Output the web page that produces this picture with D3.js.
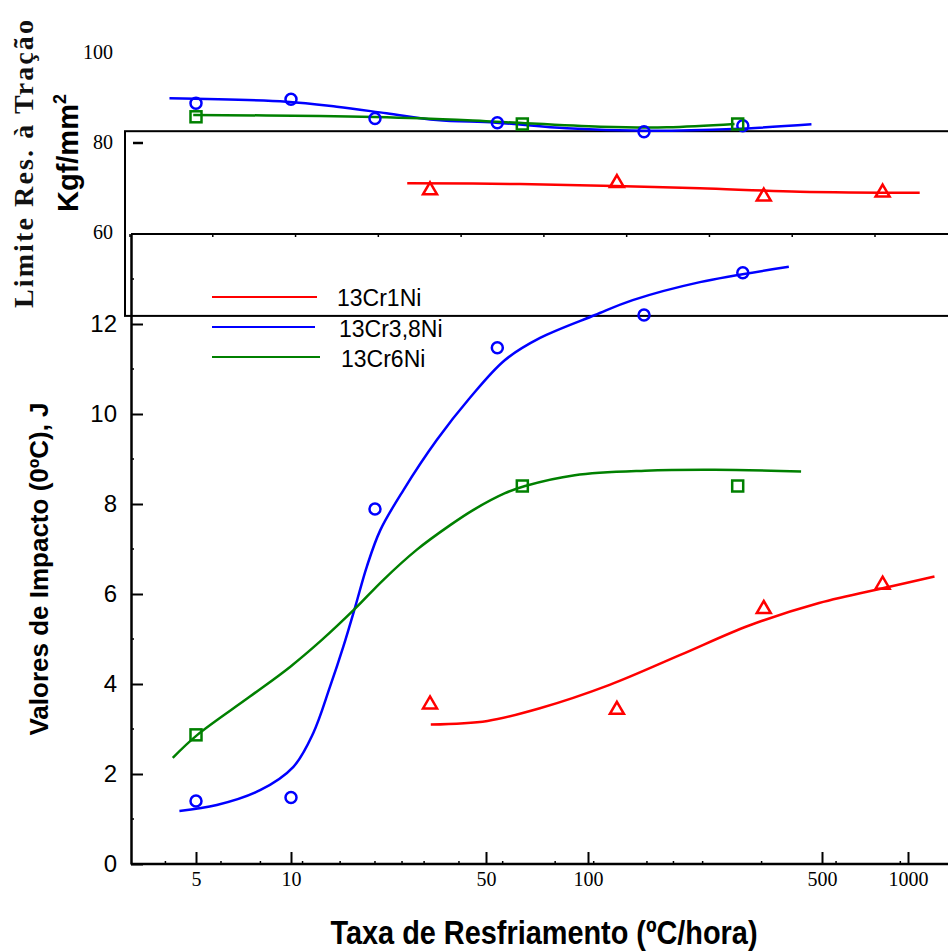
<!DOCTYPE html>
<html>
<head>
<meta charset="utf-8">
<script src="https://cdn.jsdelivr.net/npm/d3@7"></script>
<style>
  body { margin: 0; background: #fff; }
  svg { display: block; }
</style>
</head>
<body>
<div id="chart"></div>
<script>
// axis ticks
const xTicks = [5, 10, 50, 100, 500, 1000];
const xMinorTicks = [4, 6, 8, 11, 15, 20, 25, 30, 40, 56, 80, 104, 150, 180, 220, 330, 560, 940];
const impactTicks = [0, 2, 4, 6, 8, 10, 12];
const impactMinorTicks = [1, 3, 5, 7, 9, 11, 13];
const tensileTicks = [100, 80, 60];

const seriesNames = ["13Cr1Ni", "13Cr3,8Ni", "13Cr6Ni"];
const seriesColors = ["#ff0000", "#0000ff", "#008000"];

// measured points: cooling rate, impact (J), tensile (kgf/mm2)
const cr1Rate = [31.5, 122, 335, 815];
const cr1Impact = [3.58, 3.46, 5.70, 6.24];
const cr1Tensile = [69.6, 71.2, 68.2, 69.1];

const cr38Rate = [5, 10, 20, 54, 147, 290];
const cr38Impact = [1.40, 1.48, 7.89, 11.47, 12.2, 13.14];
const cr38Tensile = [88.6, 89.5, 85.2, 84.3, 82.3, 83.6];

const cr6Rate = [5, 64, 280];
const cr6Impact = [2.87, 8.4, 8.4];
const cr6Tensile = [85.6, 84.0, 84.0];

// fitted curves: [rate, value]
const cr1ImpactFit = [[31.7, 3.10], [50.5, 3.18], [72.1, 3.46], [116, 3.98], [188, 4.64], [303, 5.30], [490, 5.80], [861, 6.16], [1238, 6.39]];
const cr38ImpactFit = [[4.43, 1.18], [5.82, 1.31], [7.98, 1.64], [10.2, 2.16], [12.0, 2.90], [13.8, 3.94], [15.4, 4.83], [17.0, 5.72], [18.7, 6.61], [20.9, 7.42], [25.3, 8.31], [33.3, 9.42], [43.8, 10.36], [56.9, 11.2], [72.2, 11.69], [105, 12.2], [136, 12.53], [216, 12.93], [398, 13.27]];
const cr6ImpactFit = [[4.22, 2.36], [5.05, 2.87], [7.41, 3.72], [9.93, 4.38], [12.9, 4.98], [17.0, 5.68], [21.4, 6.31], [28.2, 6.98], [37.2, 7.53], [45.1, 7.87], [56.9, 8.24], [65.2, 8.4], [91.4, 8.64], [148, 8.74], [239, 8.76], [433, 8.72]];

const cr1TensileFit = [[26.1, 70.82], [63.0, 70.67], [120, 70.22], [216, 69.71], [429, 68.96], [1099, 68.73]];
const cr38TensileFit = [[4.12, 89.71], [9.69, 88.96], [14.6, 87.84], [22.0, 86.38], [33.3, 84.89], [53.5, 84.29], [86.5, 83.04], [148, 82.51], [271, 82.89], [465, 83.93]];
const cr6TensileFit = [[4.90, 86.0], [12.7, 85.78], [29.0, 85.27], [53.5, 84.51], [109, 83.4], [172, 83.27], [274, 84.0]];

const W = 948, H = 952;
const axisLeftX = 131;   // left axis of impact plot
const boxLeftX = 125;    // left edge of the tensile frame

const svg = d3.select("#chart").append("svg")
    .attr("width", W)
    .attr("height", H);

// the printed log axis is not perfectly uniform, so calibrate per decade piece
const x = d3.scaleLog()
    .domain(xTicks)
    .range([196, 291, 486, 588, 822, 908]);

const yImp = d3.scaleLinear().domain([0, 14]).range([864, 234]);
const yTen = d3.scaleLinear().domain([60, 100]).range([232, 52]);

const sans = "'Liberation Sans', Arial, sans-serif";
const serif = "'Liberation Serif', 'Times New Roman', serif";

// frames
svg.append("rect")
    .attr("x", boxLeftX)
    .attr("y", yTen(82.4))
    .attr("width", W - boxLeftX + 10)
    .attr("height", yImp(12.18) - yTen(82.4))
    .attr("fill", "none")
    .attr("stroke", "#000")
    .attr("stroke-width", 2);

svg.append("line")
    .attr("x1", axisLeftX).attr("x2", W)
    .attr("y1", yImp(14)).attr("y2", yImp(14))
    .attr("stroke", "#000").attr("stroke-width", 2);

// small ticks hanging from the inner frame top
const frameTicks = d3.scaleLinear().domain([0, 9]).range([130, 875]);
svg.append("g")
    .selectAll("line")
    .data(d3.range(0, 10))
    .enter().append("line")
    .attr("x1", d => frameTicks(d)).attr("x2", d => frameTicks(d))
    .attr("y1", yImp(14)).attr("y2", yImp(14) + 3)
    .attr("stroke", "#000").attr("stroke-width", 1.5);

// impact y axis
const yAxisG = svg.append("g")
    .attr("transform", `translate(${axisLeftX},0)`)
    .call(d3.axisLeft(yImp).tickValues(impactTicks).tickSizeInner(-12).tickSizeOuter(0).tickPadding(14).tickFormat(d3.format("d")));
yAxisG.select(".domain").attr("stroke-width", 2.5);
yAxisG.selectAll(".tick line").attr("stroke-width", 2);
yAxisG.selectAll("text")
    .style("font-family", sans)
    .style("font-size", "24px")
    .attr("fill", "#000");

yAxisG.selectAll(".minor")
    .data(impactMinorTicks)
    .enter().append("line")
    .attr("class", "minor")
    .attr("x1", 0).attr("x2", 3)
    .attr("y1", d => yImp(d)).attr("y2", d => yImp(d))
    .attr("stroke", "#000").attr("stroke-width", 1.5);

// tensile labels (no axis line in the figure)
const yTenG = svg.append("g")
    .attr("transform", `translate(${axisLeftX},0)`)
    .call(d3.axisLeft(yTen).tickValues(tensileTicks).tickSize(0).tickPadding(18));
yTenG.select(".domain").remove();
yTenG.selectAll("text")
    .style("font-family", serif)
    .style("font-size", "20px")
    .attr("fill", "#000");
svg.append("line")
    .attr("x1", axisLeftX + 2).attr("x2", axisLeftX + 12)
    .attr("y1", yTen(80) + 1).attr("y2", yTen(80) + 1)
    .attr("stroke", "#000").attr("stroke-width", 2.5);

// x axis
const xAxisG = svg.append("g")
    .attr("transform", `translate(0,${yImp(0)})`)
    .call(d3.axisBottom(x).tickValues(xTicks).tickSizeInner(-12).tickSizeOuter(0).tickPadding(8).tickFormat(d3.format("d")));
xAxisG.select(".domain").remove();
xAxisG.selectAll(".tick line").attr("stroke-width", 2);
xAxisG.selectAll("text")
    .style("font-family", serif)
    .style("font-size", "20px")
    .attr("fill", "#000");
xAxisG.append("line")
    .attr("x1", axisLeftX).attr("x2", W)
    .attr("stroke", "#000").attr("stroke-width", 2.5);
xAxisG.selectAll(".minor")
    .data(xMinorTicks)
    .enter().append("line")
    .attr("class", "minor")
    .attr("x1", d => x(d)).attr("x2", d => x(d))
    .attr("y1", 0).attr("y2", -3)
    .attr("stroke", "#000").attr("stroke-width", 1.5);

// curves
const curveGroups = [
    { fit: cr1ImpactFit, y: yImp, color: seriesColors[0] },
    { fit: cr38ImpactFit, y: yImp, color: seriesColors[1] },
    { fit: cr6ImpactFit, y: yImp, color: seriesColors[2] },
    { fit: cr1TensileFit, y: yTen, color: seriesColors[0] },
    { fit: cr38TensileFit, y: yTen, color: seriesColors[1] },
    { fit: cr6TensileFit, y: yTen, color: seriesColors[2] }
];

curveGroups.forEach(c => {
    const line = d3.line()
        .x(d => x(d[0]))
        .y(d => c.y(d[1]))
        .curve(d3.curveCatmullRom.alpha(0.5));
    svg.append("path")
        .datum(c.fit)
        .attr("d", line)
        .attr("fill", "none")
        .attr("stroke", c.color)
        .attr("stroke-width", 2.5);
});

// markers
function drawMarkers(rates, values, y, shape, color) {
    const pts = rates.map((r, i) => [x(r), y(values[i])]);
    const g = svg.append("g")
        .attr("fill", "none")
        .attr("stroke", color)
        .attr("stroke-width", 2.5);
    if (shape === "circle") {
        g.selectAll("circle").data(pts).enter().append("circle")
            .attr("cx", d => d[0]).attr("cy", d => d[1]).attr("r", 5.5);
    } else if (shape === "square") {
        g.selectAll("rect").data(pts).enter().append("rect")
            .attr("x", d => d[0] - 5.5).attr("y", d => d[1] - 5.5)
            .attr("width", 11).attr("height", 11);
    } else {
        g.selectAll("path").data(pts).enter().append("path")
            .attr("d", d => `M${d[0]},${d[1] - 6.5}L${d[0] + 7},${d[1] + 5.5}L${d[0] - 7},${d[1] + 5.5}Z`);
    }
}

drawMarkers(cr1Rate, cr1Impact, yImp, "triangle", seriesColors[0]);
drawMarkers(cr38Rate, cr38Impact, yImp, "circle", seriesColors[1]);
drawMarkers(cr6Rate, cr6Impact, yImp, "square", seriesColors[2]);
drawMarkers(cr1Rate, cr1Tensile, yTen, "triangle", seriesColors[0]);
drawMarkers(cr38Rate, cr38Tensile, yTen, "circle", seriesColors[1]);
drawMarkers(cr6Rate, cr6Tensile, yTen, "square", seriesColors[2]);

// legend
const legend = svg.append("g").attr("class", "legend");
legend.selectAll("line")
    .data(seriesNames)
    .enter().append("line")
    .attr("x1", 212).attr("x2", (d, i) => [317, 315, 320][i])
    .attr("y1", (d, i) => 297 + i * 30).attr("y2", (d, i) => 297 + i * 30)
    .attr("stroke", (d, i) => seriesColors[i])
    .attr("stroke-width", 1.8);
legend.selectAll("text")
    .data(seriesNames)
    .enter().append("text")
    .attr("x", (d, i) => 337 + i * 2)
    .attr("y", (d, i) => 298 + i * 30.5)
    .attr("dy", "0.35em")
    .style("font-family", sans)
    .style("font-size", "23px")
    .text(d => d);

// axis titles
svg.append("text")
    .attr("transform", "translate(33,308) rotate(-90)")
    .attr("textLength", 288)
    .attr("lengthAdjust", "spacing")
    .style("font-family", serif)
    .style("font-weight", "bold")
    .style("font-size", "28px")
    .attr("fill", "#111")
    .text("Limite Res. à Tração");

const kgf = svg.append("text")
    .attr("transform", "translate(78,212) rotate(-90)")
    .style("font-family", sans)
    .style("font-weight", "bold")
    .style("font-size", "29px");
kgf.append("tspan").text("Kgf/mm");
kgf.append("tspan").attr("dy", -12).style("font-size", "18px").text("2");

svg.append("text")
    .attr("transform", "translate(48,569) rotate(-90)")
    .attr("text-anchor", "middle")
    .style("font-family", sans)
    .style("font-weight", "bold")
    .style("font-size", "26px")
    .text("Valores de Impacto (0ºC), J");

svg.append("text")
    .attr("x", 544)
    .attr("y", 944)
    .attr("text-anchor", "middle")
    .attr("textLength", 427)
    .attr("lengthAdjust", "spacingAndGlyphs")
    .style("font-family", "'Liberation Sans Narrow', 'Arial Narrow', " + sans)
    .style("font-weight", "bold")
    .style("font-size", "33px")
    .text("Taxa de Resfriamento (ºC/hora)");
</script>
</body>
</html>
